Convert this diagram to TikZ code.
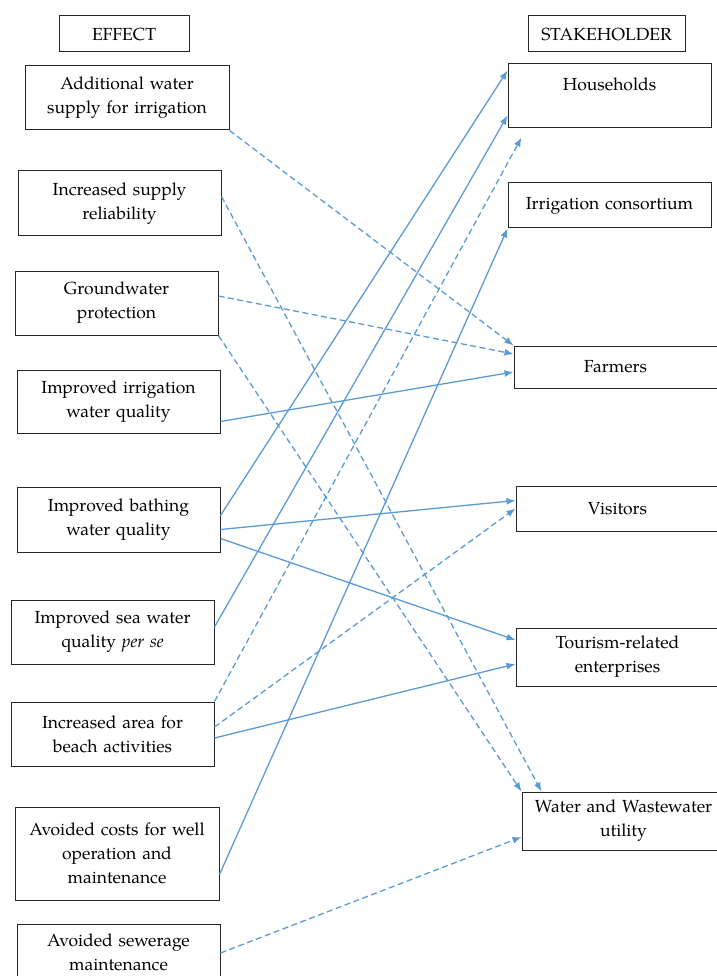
\documentclass[tikz,border=0pt]{standalone}
\usepackage{fontspec}
\setmainfont{TeX Gyre Pagella}
\usetikzlibrary{arrows.meta}
\definecolor{linkblue}{RGB}{91,155,213}
\tikzset{
  box/.style = {draw = black!85, line width = 1pt, inner sep = 0pt, align = center, font = \fontsize{17.5}{24}\selectfont},
  link/.style = {draw = linkblue, line width = 1.3pt, -{Latex[length = 9pt, width = 7pt]}},
  dlink/.style = {link, dash pattern = on 6pt off 3.5pt},
}
\begin{document}
\begin{tikzpicture}[x = 1pt, y = -1pt]
\useasboundingbox (0,0) rectangle (716,976);
% headers
\node[box, text width = 130pt, minimum height = 36pt] (effect) at (124,34) {EFFECT};
\node[box, text width = 157pt, minimum height = 36pt] (stake) at (606.5,34) {STAKEHOLDER};
% effects
\node[box, text width = 204pt, minimum height = 64pt] (addwater) at (127,98) {Additional water\\ supply for irrigation};
\node[box, text width = 203pt, minimum height = 65pt] (reliab) at (119.5,203.5) {Increased supply\\ reliability};
\node[box, text width = 203pt, minimum height = 64pt] (ground) at (116.5,303) {Groundwater\\ protection};
\node[box, text width = 203pt, minimum height = 63pt] (irrqual) at (118.5,401.5) {Improved irrigation\\ water quality};
\node[box, text width = 203pt, minimum height = 65pt] (bathing) at (118.5,519.5) {Improved bathing\\ water quality};
\node[box, text width = 203pt, minimum height = 64pt] (seawater) at (112.5,632) {Improved sea water\\ quality \emph{per se}};
\node[box, text width = 203pt, minimum height = 64pt] (beach) at (112.5,734) {Increased area for\\ beach activities};
\node[box, text width = 204pt, minimum height = 93pt] (wellcost) at (117,853.5) {Avoided costs for well\\ operation and\\ maintenance};
\node[box, text width = 203pt, minimum height = 56pt] (sewer) at (118.5,952) {Avoided sewerage\\ maintenance};
% stakeholders
\node[box, text width = 203pt, minimum height = 64pt] (house) at (609.5,96) {Households\\ \mbox{}};
\node[box, text width = 203pt, minimum height = 45pt] (consort) at (609.5,205.5) {Irrigation consortium};
\node[box, text width = 203pt, minimum height = 42pt] (farmers) at (615.5,367) {Farmers};
\node[box, text width = 203pt, minimum height = 45pt] (visitors) at (617.5,508.5) {Visitors};
\node[box, text width = 203pt, minimum height = 58pt] (tourism) at (617.5,657) {Tourism-related\\ enterprises};
\node[box, text width = 203pt, minimum height = 58pt] (utility) at (623.5,821) {Water and Wastewater\\ utility};
% links
\draw[dlink] (addwater.south east) -- (farmers.north west);
\draw[dlink] ([yshift = 7pt]reliab.east) -- ([xshift = 20pt]utility.north west);
\draw[dlink] ([yshift = 7pt]ground.east) -- ([yshift = 13pt]farmers.west);
\draw[dlink] (ground.south east) -- (utility.north west);
\draw[link] ([yshift = 12pt]irrqual.south east) -- ([yshift = -5pt]farmers.west);
\draw[link] ([yshift = 4pt]bathing.east) -- ([yshift = -7pt]house.north west);
\draw[link] ([yshift = -10pt]bathing.east) -- ([yshift = 8pt]visitors.west);
\draw[link] ([yshift = -19pt]bathing.east) -- ([yshift = 17pt]tourism.west);
\draw[link] ([yshift = 5pt]seawater.east) -- ([yshift = 13pt]house.south west);
\coordinate (belowhouse) at ([xshift = 14pt, yshift = -9pt]house.south west);
\draw[dlink] (beach.north east) -- (belowhouse);
\draw[dlink] ([yshift = 7pt]beach.east) -- (visitors.west);
\draw[link] ([yshift = -4pt]beach.east) -- ([yshift = -7pt]tourism.west);
\draw[link] ([yshift = 26pt]wellcost.south east) -- (consort.south west);
\draw[dlink] ([yshift = -1pt]sewer.east) -- ([yshift = -16pt]utility.west);
\end{tikzpicture}
\end{document}
